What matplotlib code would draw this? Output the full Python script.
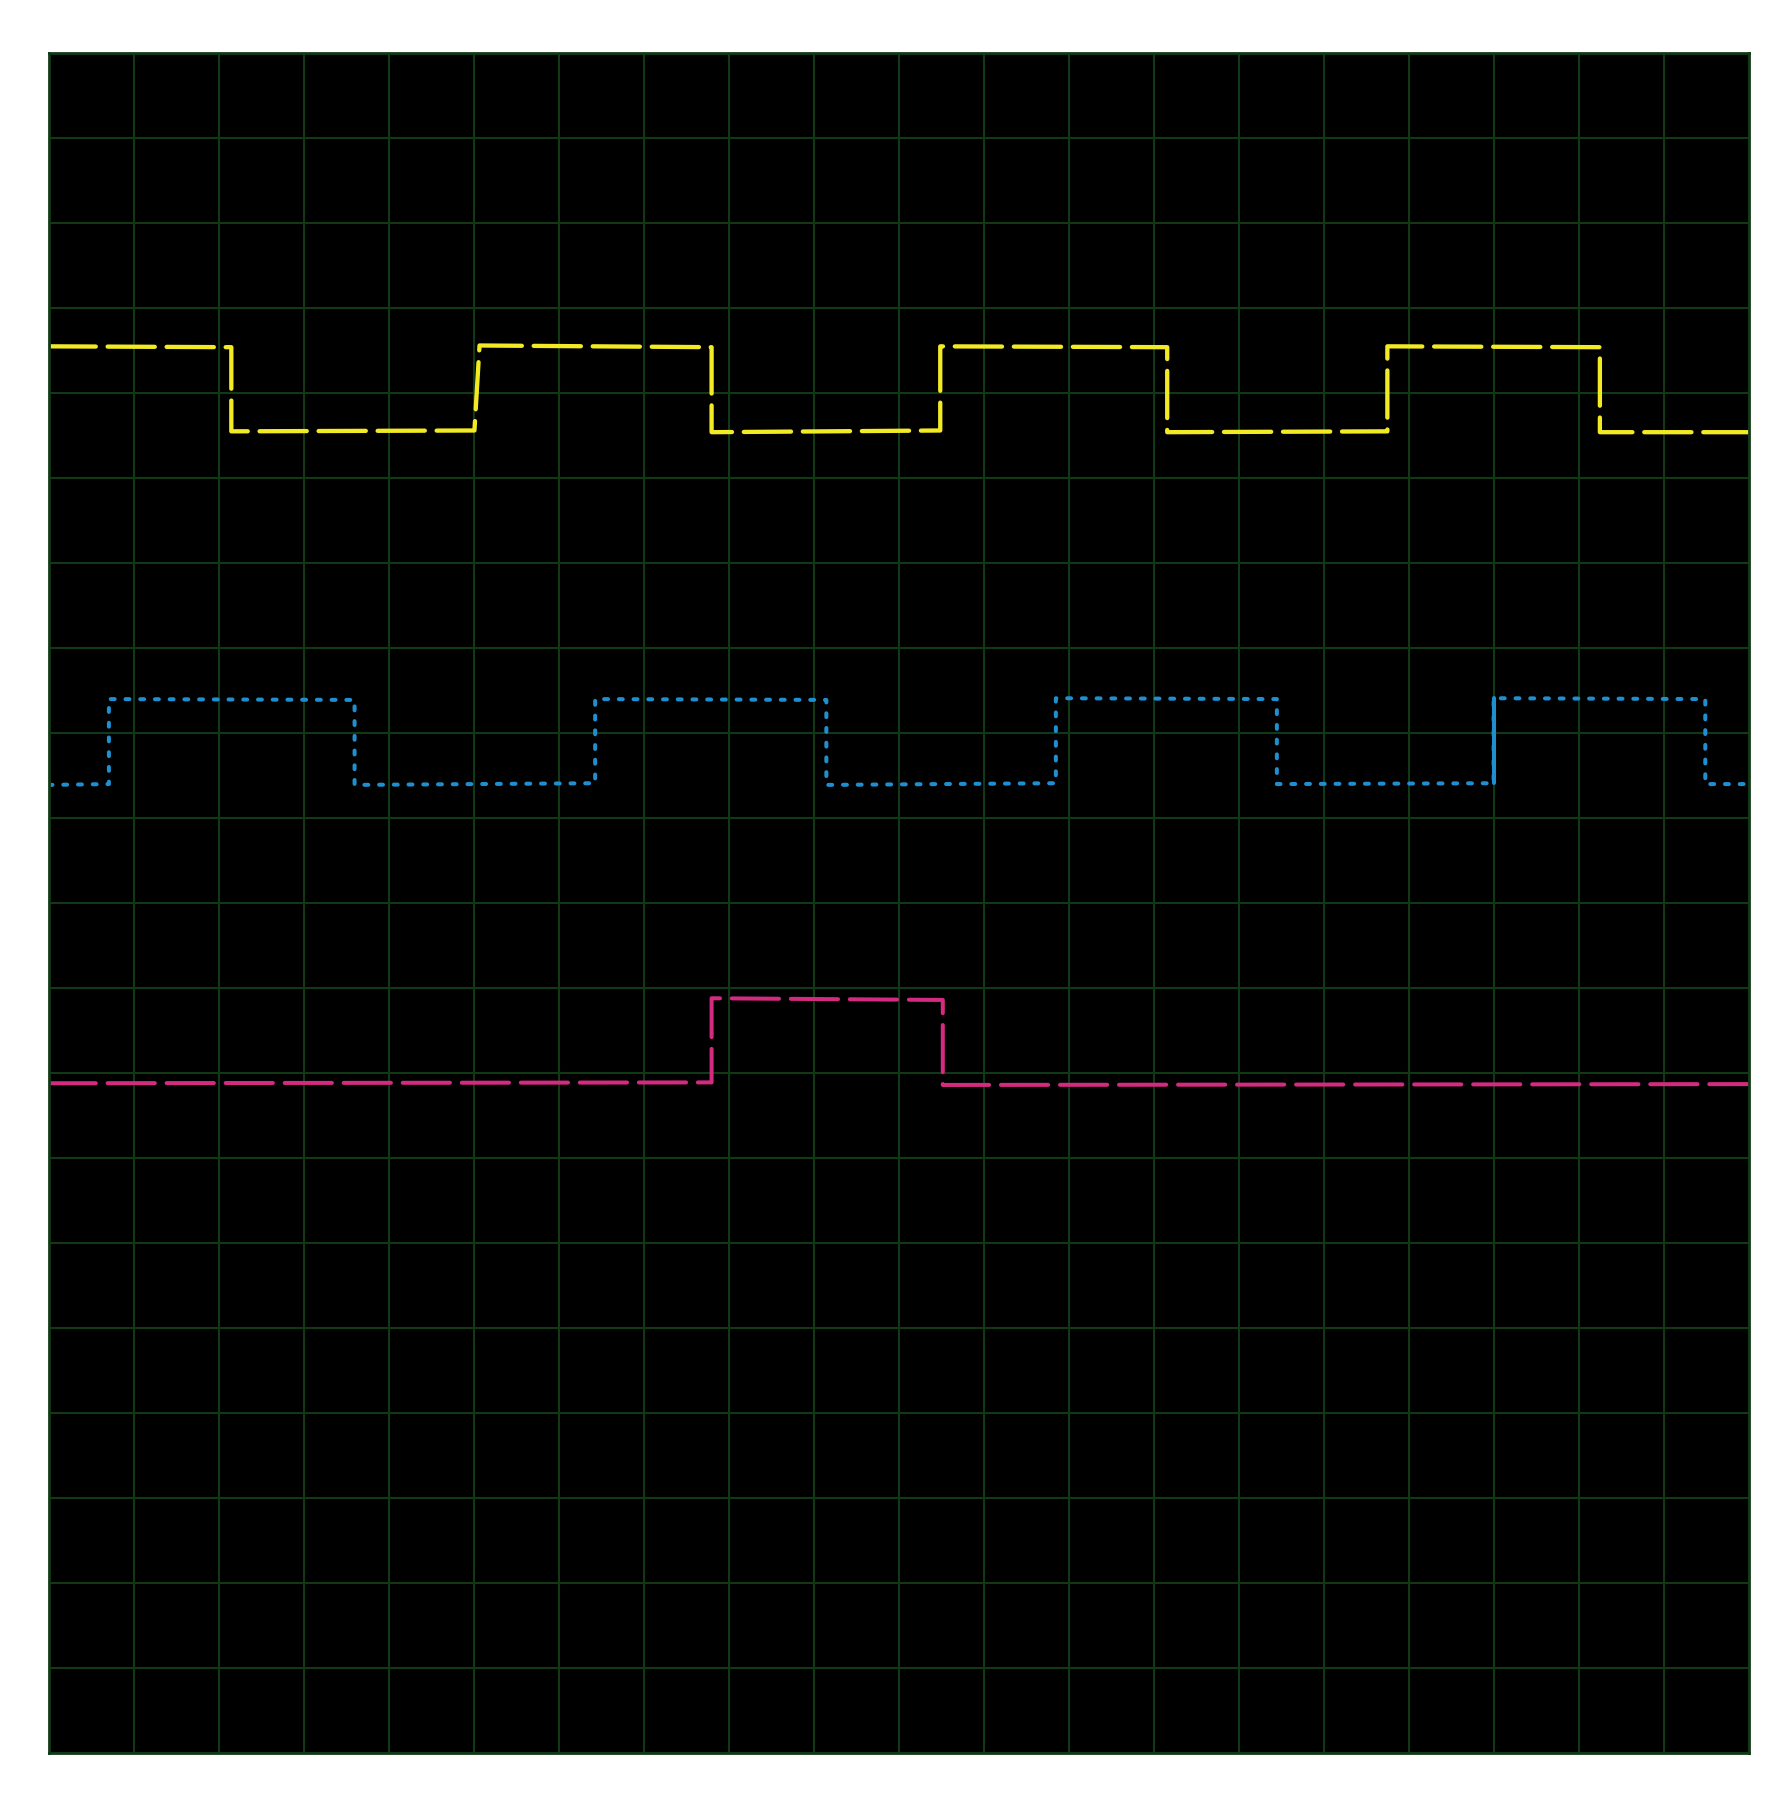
import matplotlib
matplotlib.use("Agg")
import matplotlib.pyplot as plt

# three logic traces, in grid divisions (20 x 20 screen)
yellow_x = [0, 2.15, 2.15, 5.01, 5.07, 7.80, 7.80, 10.49, 10.49, 13.16, 13.16, 15.75, 15.75, 18.25, 18.25, 20]
yellow_y = [16.55, 16.54, 15.55, 15.56, 16.56, 16.54, 15.54, 15.56, 16.55, 16.54, 15.54, 15.55, 16.55, 16.54, 15.54, 15.54]

blue_x = [0, 0.71, 0.71, 3.60, 3.60, 6.43, 6.43, 9.15, 9.15, 11.85, 11.85, 14.45, 14.45, 17.00, 17.00, 19.49, 19.49, 20]
blue_y = [11.39, 11.40, 12.40, 12.39, 11.39, 11.41, 12.40, 12.39, 11.39, 11.41, 12.41, 12.40, 11.40, 11.41, 12.41, 12.40, 11.40, 11.40]
blue_solid = (13, 15)  # the one edge drawn solid

magenta_x = [0, 7.80, 7.80, 10.52, 10.52, 20]
magenta_y = [7.88, 7.89, 8.88, 8.86, 7.86, 7.87]

divisions = list(range(0, 21))

GRID = "#123916"
plt.rcParams["lines.scale_dashes"] = False

fig = plt.figure(figsize=(17.92, 18.0), dpi=100)
ax = fig.add_axes([0.0271, 0.0261, 0.9487, 0.9444])
ax.set_facecolor("black")

ax.plot(yellow_x, yellow_y, color="#f2ea23", lw=3.1, dashes=(34.0, 8.5),
        dash_capstyle="round", solid_capstyle="round")
ax.plot(blue_x, blue_y, color="#1f8fd0", lw=2.9, dashes=(2.8, 7.8),
        dash_capstyle="round")
i, j = blue_solid
ax.plot(blue_x[i:j], blue_y[i:j], color="#1f8fd0", lw=2.9, solid_capstyle="round")
ax.plot(magenta_x, magenta_y, color="#d42a80", lw=2.9, dashes=(34.0, 8.5),
        dash_capstyle="round")

ax.set_xlim(0, 20)
ax.set_ylim(0, 20)
ax.set_xticks(divisions)
ax.set_yticks(divisions)
ax.tick_params(length=0, labelbottom=False, labelleft=False)
ax.grid(True, color=GRID, lw=1.5)
ax.set_axisbelow(True)
for s in ax.spines.values():
    s.set_color(GRID)
    s.set_linewidth(2)

fig.savefig("out.png", dpi=100, facecolor="white")
